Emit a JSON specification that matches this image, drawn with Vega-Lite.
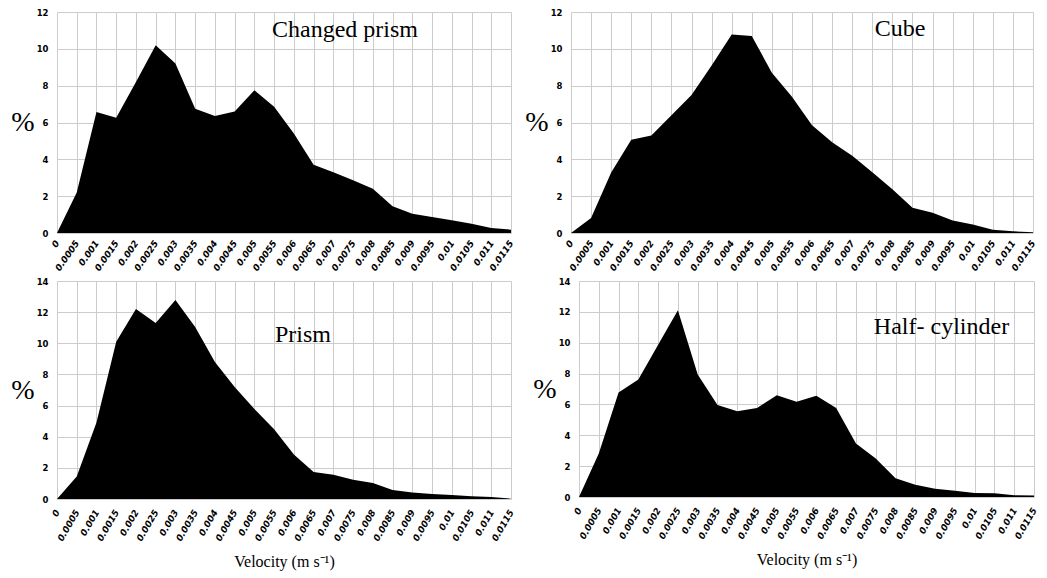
{
  "$schema": "https://vega.github.io/schema/vega-lite/v6.json",
  "padding": {"left": 10, "top": 8, "right": 5, "bottom": 5},
  "background": "white",
  "datasets": {
    "d": [
      {"shape": "Changed prism", "v": 0, "pct": 0},
      {"shape": "Changed prism", "v": 0.0005, "pct": 2.2},
      {"shape": "Changed prism", "v": 0.001, "pct": 6.57},
      {"shape": "Changed prism", "v": 0.0015, "pct": 6.26},
      {"shape": "Changed prism", "v": 0.002, "pct": 8.2},
      {"shape": "Changed prism", "v": 0.0025, "pct": 10.2},
      {"shape": "Changed prism", "v": 0.003, "pct": 9.2},
      {"shape": "Changed prism", "v": 0.0035, "pct": 6.75},
      {"shape": "Changed prism", "v": 0.004, "pct": 6.35},
      {"shape": "Changed prism", "v": 0.0045, "pct": 6.6},
      {"shape": "Changed prism", "v": 0.005, "pct": 7.75},
      {"shape": "Changed prism", "v": 0.0055, "pct": 6.85},
      {"shape": "Changed prism", "v": 0.006, "pct": 5.4},
      {"shape": "Changed prism", "v": 0.0065, "pct": 3.7},
      {"shape": "Changed prism", "v": 0.007, "pct": 3.3},
      {"shape": "Changed prism", "v": 0.0075, "pct": 2.86},
      {"shape": "Changed prism", "v": 0.008, "pct": 2.4},
      {"shape": "Changed prism", "v": 0.0085, "pct": 1.45},
      {"shape": "Changed prism", "v": 0.009, "pct": 1.05},
      {"shape": "Changed prism", "v": 0.0095, "pct": 0.87},
      {"shape": "Changed prism", "v": 0.01, "pct": 0.69},
      {"shape": "Changed prism", "v": 0.0105, "pct": 0.5},
      {"shape": "Changed prism", "v": 0.011, "pct": 0.27},
      {"shape": "Changed prism", "v": 0.0115, "pct": 0.18},
      {"shape": "Cube", "v": 0, "pct": 0},
      {"shape": "Cube", "v": 0.0005, "pct": 0.82},
      {"shape": "Cube", "v": 0.001, "pct": 3.29},
      {"shape": "Cube", "v": 0.0015, "pct": 5.06},
      {"shape": "Cube", "v": 0.002, "pct": 5.3},
      {"shape": "Cube", "v": 0.0025, "pct": 6.4},
      {"shape": "Cube", "v": 0.003, "pct": 7.5},
      {"shape": "Cube", "v": 0.0035, "pct": 9.1},
      {"shape": "Cube", "v": 0.004, "pct": 10.78},
      {"shape": "Cube", "v": 0.0045, "pct": 10.7},
      {"shape": "Cube", "v": 0.005, "pct": 8.7},
      {"shape": "Cube", "v": 0.0055, "pct": 7.4},
      {"shape": "Cube", "v": 0.006, "pct": 5.85},
      {"shape": "Cube", "v": 0.0065, "pct": 4.93},
      {"shape": "Cube", "v": 0.007, "pct": 4.2},
      {"shape": "Cube", "v": 0.0075, "pct": 3.3},
      {"shape": "Cube", "v": 0.008, "pct": 2.37},
      {"shape": "Cube", "v": 0.0085, "pct": 1.37},
      {"shape": "Cube", "v": 0.009, "pct": 1.1},
      {"shape": "Cube", "v": 0.0095, "pct": 0.68},
      {"shape": "Cube", "v": 0.01, "pct": 0.46},
      {"shape": "Cube", "v": 0.0105, "pct": 0.18},
      {"shape": "Cube", "v": 0.011, "pct": 0.09},
      {"shape": "Cube", "v": 0.0115, "pct": 0.04},
      {"shape": "Prism", "v": 0, "pct": 0},
      {"shape": "Prism", "v": 0.0005, "pct": 1.45},
      {"shape": "Prism", "v": 0.001, "pct": 4.92},
      {"shape": "Prism", "v": 0.0015, "pct": 10.1},
      {"shape": "Prism", "v": 0.002, "pct": 12.2},
      {"shape": "Prism", "v": 0.0025, "pct": 11.3},
      {"shape": "Prism", "v": 0.003, "pct": 12.78},
      {"shape": "Prism", "v": 0.0035, "pct": 11.05},
      {"shape": "Prism", "v": 0.004, "pct": 8.8},
      {"shape": "Prism", "v": 0.0045, "pct": 7.2},
      {"shape": "Prism", "v": 0.005, "pct": 5.78},
      {"shape": "Prism", "v": 0.0055, "pct": 4.48},
      {"shape": "Prism", "v": 0.006, "pct": 2.86},
      {"shape": "Prism", "v": 0.0065, "pct": 1.73},
      {"shape": "Prism", "v": 0.007, "pct": 1.56},
      {"shape": "Prism", "v": 0.0075, "pct": 1.23},
      {"shape": "Prism", "v": 0.008, "pct": 1.02},
      {"shape": "Prism", "v": 0.0085, "pct": 0.58},
      {"shape": "Prism", "v": 0.009, "pct": 0.41},
      {"shape": "Prism", "v": 0.0095, "pct": 0.32},
      {"shape": "Prism", "v": 0.01, "pct": 0.26},
      {"shape": "Prism", "v": 0.0105, "pct": 0.17},
      {"shape": "Prism", "v": 0.011, "pct": 0.13},
      {"shape": "Prism", "v": 0.0115, "pct": 0.02},
      {"shape": "Half- cylinder", "v": 0, "pct": 0},
      {"shape": "Half- cylinder", "v": 0.0005, "pct": 2.82},
      {"shape": "Half- cylinder", "v": 0.001, "pct": 6.77},
      {"shape": "Half- cylinder", "v": 0.0015, "pct": 7.62},
      {"shape": "Half- cylinder", "v": 0.002, "pct": 9.87},
      {"shape": "Half- cylinder", "v": 0.0025, "pct": 12.1},
      {"shape": "Half- cylinder", "v": 0.003, "pct": 7.94},
      {"shape": "Half- cylinder", "v": 0.0035, "pct": 5.96},
      {"shape": "Half- cylinder", "v": 0.004, "pct": 5.55},
      {"shape": "Half- cylinder", "v": 0.0045, "pct": 5.77},
      {"shape": "Half- cylinder", "v": 0.005, "pct": 6.6},
      {"shape": "Half- cylinder", "v": 0.0055, "pct": 6.17},
      {"shape": "Half- cylinder", "v": 0.006, "pct": 6.56},
      {"shape": "Half- cylinder", "v": 0.0065, "pct": 5.77},
      {"shape": "Half- cylinder", "v": 0.007, "pct": 3.46},
      {"shape": "Half- cylinder", "v": 0.0075, "pct": 2.5},
      {"shape": "Half- cylinder", "v": 0.008, "pct": 1.22},
      {"shape": "Half- cylinder", "v": 0.0085, "pct": 0.79},
      {"shape": "Half- cylinder", "v": 0.009, "pct": 0.53},
      {"shape": "Half- cylinder", "v": 0.0095, "pct": 0.41},
      {"shape": "Half- cylinder", "v": 0.01, "pct": 0.26},
      {"shape": "Half- cylinder", "v": 0.0105, "pct": 0.24},
      {"shape": "Half- cylinder", "v": 0.011, "pct": 0.11},
      {"shape": "Half- cylinder", "v": 0.0115, "pct": 0.09}
    ]
  },
  "config": {
    "view": {"stroke": null},
    "title": {"font": "Liberation Serif", "fontSize": 24, "fontWeight": "normal", "color": "#000000", "anchor": "middle", "baseline": "middle", "offset": 0}
  },
  "spacing": 4,
  "vconcat": [
    {
      "bounds": "flush",
      "spacing": 60,
      "hconcat": [
        {
          "width": 454, "height": 221,
          "title": {"text": "Changed prism", "dx": 61, "dy": 38},
          "data": {"name": "d"},
          "transform": [{"filter": "datum.shape === 'Changed prism'"}],
          "mark": {"type": "area", "color": "#000000", "opacity": 1},
          "encoding": {
            "x": {"field": "v", "type": "quantitative", "scale": {"domain": [0, 0.0115], "nice": false, "zero": false},
              "axis": {"title": null, "format": "~f", "values": [0,0.0005,0.001,0.0015,0.002,0.0025,0.003,0.0035,0.004,0.0045,0.005,0.0055,0.006,0.0065,0.007,0.0075,0.008,0.0085,0.009,0.0095,0.01,0.0105,0.011,0.0115],
                "domain": false, "ticks": false, "grid": true, "gridColor": "#cccccc", "labelColor": "#000000", "labelFont": "DejaVu Sans", "labelFontSize": 9, "labelFontStyle": "italic", "labelFontWeight": "bold", "labelAngle": -55, "labelAlign": "right", "labelBaseline": "middle", "labelPadding": 8, "labelOverlap": false}},
            "y": {"field": "pct", "type": "quantitative", "scale": {"domain": [0, 12], "nice": false},
              "axis": {"title": "%", "values": [0,2,4,6,8,10,12], "domain": false, "ticks": false, "grid": true, "gridColor": "#cccccc", "labelColor": "#000000", "labelFont": "DejaVu Sans", "labelFontSize": 8.5, "labelFontWeight": "bold", "labelPadding": 9, "labelOverlap": false,
                "titleColor": "#000000", "titleFont": "Liberation Serif", "titleFontSize": 28, "titleFontWeight": "normal", "titleAngle": 0, "titleAlign": "right", "titleBaseline": "middle", "titlePadding": 2}}
          }
        },
        {
          "width": 462, "height": 221,
          "title": {"text": "Cube", "dx": 98, "dy": 37},
          "data": {"name": "d"},
          "transform": [{"filter": "datum.shape === 'Cube'"}],
          "mark": {"type": "area", "color": "#000000", "opacity": 1},
          "encoding": {
            "x": {"field": "v", "type": "quantitative", "scale": {"domain": [0, 0.0115], "nice": false, "zero": false},
              "axis": {"title": null, "format": "~f", "values": [0,0.0005,0.001,0.0015,0.002,0.0025,0.003,0.0035,0.004,0.0045,0.005,0.0055,0.006,0.0065,0.007,0.0075,0.008,0.0085,0.009,0.0095,0.01,0.0105,0.011,0.0115],
                "domain": false, "ticks": false, "grid": true, "gridColor": "#cccccc", "labelColor": "#000000", "labelFont": "DejaVu Sans", "labelFontSize": 9, "labelFontStyle": "italic", "labelFontWeight": "bold", "labelAngle": -55, "labelAlign": "right", "labelBaseline": "middle", "labelPadding": 8, "labelOverlap": false}},
            "y": {"field": "pct", "type": "quantitative", "scale": {"domain": [0, 12], "nice": false},
              "axis": {"title": "%", "values": [0,2,4,6,8,10,12], "domain": false, "ticks": false, "grid": true, "gridColor": "#cccccc", "labelColor": "#000000", "labelFont": "DejaVu Sans", "labelFontSize": 8.5, "labelFontWeight": "bold", "labelPadding": 9, "labelOverlap": false,
                "titleColor": "#000000", "titleFont": "Liberation Serif", "titleFontSize": 28, "titleFontWeight": "normal", "titleAngle": 0, "titleAlign": "right", "titleBaseline": "middle", "titlePadding": 2}}
          }
        }
      ]
    },
    {
      "bounds": "flush",
      "spacing": 68,
      "hconcat": [
        {
          "width": 454, "height": 218,
          "title": {"text": "Prism", "dx": 19, "dy": 74},
          "data": {"name": "d"},
          "transform": [{"filter": "datum.shape === 'Prism'"}],
          "mark": {"type": "area", "color": "#000000", "opacity": 1},
          "encoding": {
            "x": {"field": "v", "type": "quantitative", "scale": {"domain": [0, 0.0115], "nice": false, "zero": false},
              "axis": {"title": "Velocity (m s⁻¹)", "format": "~f", "values": [0,0.0005,0.001,0.0015,0.002,0.0025,0.003,0.0035,0.004,0.0045,0.005,0.0055,0.006,0.0065,0.007,0.0075,0.008,0.0085,0.009,0.0095,0.01,0.0105,0.011,0.0115],
                "domain": false, "ticks": false, "grid": true, "gridColor": "#cccccc", "labelColor": "#000000", "labelFont": "DejaVu Sans", "labelFontSize": 9, "labelFontStyle": "italic", "labelFontWeight": "bold", "labelAngle": -60, "labelAlign": "right", "labelBaseline": "middle", "labelPadding": 11, "labelOverlap": false,
                "titleColor": "#000000", "titleFont": "Liberation Serif", "titleFontSize": 16, "titleFontWeight": "normal", "titlePadding": 11}},
            "y": {"field": "pct", "type": "quantitative", "scale": {"domain": [0, 14], "nice": false},
              "axis": {"title": "%", "values": [0,2,4,6,8,10,12,14], "domain": false, "ticks": false, "grid": true, "gridColor": "#cccccc", "labelColor": "#000000", "labelFont": "DejaVu Sans", "labelFontSize": 8.5, "labelFontWeight": "bold", "labelPadding": 9, "labelOverlap": false,
                "titleColor": "#000000", "titleFont": "Liberation Serif", "titleFontSize": 28, "titleFontWeight": "normal", "titleAngle": 0, "titleAlign": "right", "titleBaseline": "middle", "titlePadding": 2}}
          }
        },
        {
          "width": 455, "height": 216,
          "title": {"text": "Half- cylinder", "dx": 135, "dy": 66},
          "data": {"name": "d"},
          "transform": [{"filter": "datum.shape === 'Half- cylinder'"}],
          "mark": {"type": "area", "color": "#000000", "opacity": 1},
          "encoding": {
            "x": {"field": "v", "type": "quantitative", "scale": {"domain": [0, 0.0115], "nice": false, "zero": false},
              "axis": {"title": "Velocity (m s⁻¹)", "format": "~f", "values": [0,0.0005,0.001,0.0015,0.002,0.0025,0.003,0.0035,0.004,0.0045,0.005,0.0055,0.006,0.0065,0.007,0.0075,0.008,0.0085,0.009,0.0095,0.01,0.0105,0.011,0.0115],
                "domain": false, "ticks": false, "grid": true, "gridColor": "#cccccc", "labelColor": "#000000", "labelFont": "DejaVu Sans", "labelFontSize": 9, "labelFontStyle": "italic", "labelFontWeight": "bold", "labelAngle": -60, "labelAlign": "right", "labelBaseline": "middle", "labelPadding": 11, "labelOverlap": false,
                "titleColor": "#000000", "titleFont": "Liberation Serif", "titleFontSize": 16, "titleFontWeight": "normal", "titlePadding": 11}},
            "y": {"field": "pct", "type": "quantitative", "scale": {"domain": [0, 14], "nice": false},
              "axis": {"title": "%", "values": [0,2,4,6,8,10,12,14], "domain": false, "ticks": false, "grid": true, "gridColor": "#cccccc", "labelColor": "#000000", "labelFont": "DejaVu Sans", "labelFontSize": 8.5, "labelFontWeight": "bold", "labelPadding": 9, "labelOverlap": false,
                "titleColor": "#000000", "titleFont": "Liberation Serif", "titleFontSize": 28, "titleFontWeight": "normal", "titleAngle": 0, "titleAlign": "right", "titleBaseline": "middle", "titlePadding": 2}}
          }
        }
      ]
    }
  ]
}
